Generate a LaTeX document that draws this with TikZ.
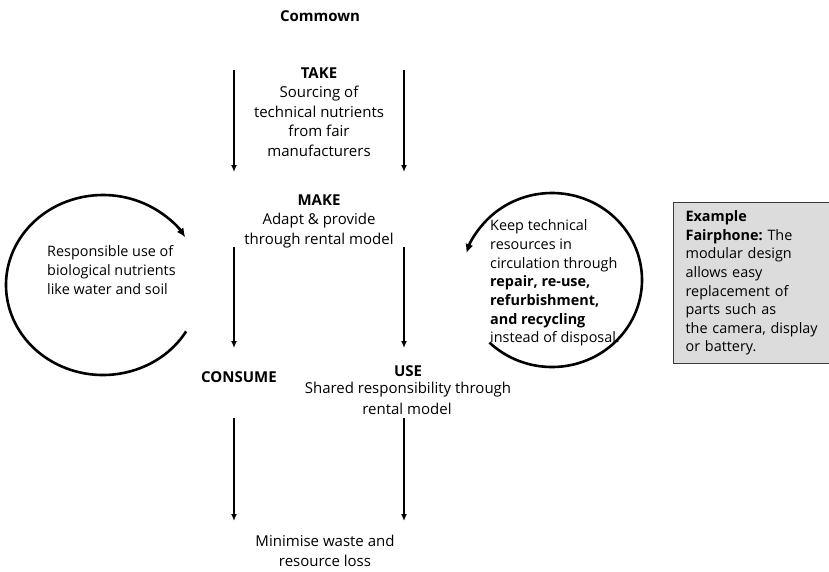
\documentclass[tikz,border=0pt]{standalone}
\usepackage{fontspec}
\setmainfont{Open Sans}
\usetikzlibrary{arrows.meta}
\definecolor{boxgray}{HTML}{DCDCDC}
\definecolor{boxline}{HTML}{3A3A3A}
\tikzset{
  txt/.style={font=\fontsize{15}{19.5}\selectfont, align=center, inner sep=0pt},
  ltxt/.style={font=\fontsize{14.4}{18.7}\selectfont, align=left, inner sep=0pt},
  flow/.style={line width=1.5pt, -{Latex[length=7pt,width=6pt]}},
  cyc/.style={line width=2.6pt, -{Latex[length=9pt,width=8pt]}},
  infobox/.style={draw=boxline, line width=1.2pt, fill=boxgray, anchor=north west,
    text width=140pt, inner xsep=12pt, inner ysep=0pt, minimum height=161pt,
    minimum width=156pt, align=left, font=\fontsize{14.4}{18.6}\selectfont},
}
\begin{document}
\frenchspacing
\begin{tikzpicture}[x=1pt,y=-1pt]
\useasboundingbox (0,0) rectangle (829,571);
% texts
\node[txt, font=\fontsize{15}{19.5}\selectfont\bfseries] (title) at (320,16) {Commown};
\node[txt] (take) at (319,112) {\textbf{TAKE}\\Sourcing of\\technical nutrients\\from fair\\manufacturers};
\node[txt] (make) at (319,221) {\textbf{MAKE}\\Adapt \& provide\\through rental model};
\node[txt] (consume) at (239,377) {\textbf{CONSUME}};
\node[txt] (use) at (408,371) {\textbf{USE}};
\node[txt] (shared) at (408,390) {Shared responsibility through};
\node[txt] (rental) at (407,409) {rental model};
\node[txt] (waste) at (325,551) {Minimise waste and\\resource loss};
\node[ltxt, anchor=west] (bio) at (47,270) {Responsible use of\\biological nutrients\\like water and soil};
\node[ltxt, anchor=west] (tech) at (490,283) {Keep technical\\resources in\\circulation through\\\textbf{repair, re-use,}\\\textbf{refurbishment,}\\\textbf{and recycling}\\instead of disposal.};
\node[infobox] (example) at (673,202) {\textbf{Example}\\\textbf{Fairphone:} The\\modular design\\allows easy\\replacement of\\parts such as\\the camera, display\\or battery.};
% arrow end points
\coordinate (l1s) at (234,70);  \coordinate (l1e) at (234,172);
\coordinate (r1s) at (404,70);  \coordinate (r1e) at (404,172);
\coordinate (l2s) at (234,247); \coordinate (l2e) at (234,348);
\coordinate (r2s) at (404,247); \coordinate (r2e) at (404,348);
\coordinate (l3s) at (234,418); \coordinate (l3e) at (234,521);
\coordinate (r3s) at (404,418); \coordinate (r3e) at (404,521);
\draw[flow] (l1s) -- (l1e);
\draw[flow] (r1s) -- (r1e);
\draw[flow] (l2s) -- (l2e);
\draw[flow] (r2s) -- (r2e);
\draw[flow] (l3s) -- (l3e);
\draw[flow] (r3s) -- (r3e);
% cycles
\coordinate (lc) at (103,285);
\coordinate (rc) at (552,280);
\draw[cyc] ([shift={(31:97 and 90)}]lc) arc[start angle=31, end angle=328, x radius=97, y radius=90];
\draw[cyc] ([shift={(134:90 and 87)}]rc) arc[start angle=134, end angle=-162, x radius=90, y radius=87];
\end{tikzpicture}
\end{document}
